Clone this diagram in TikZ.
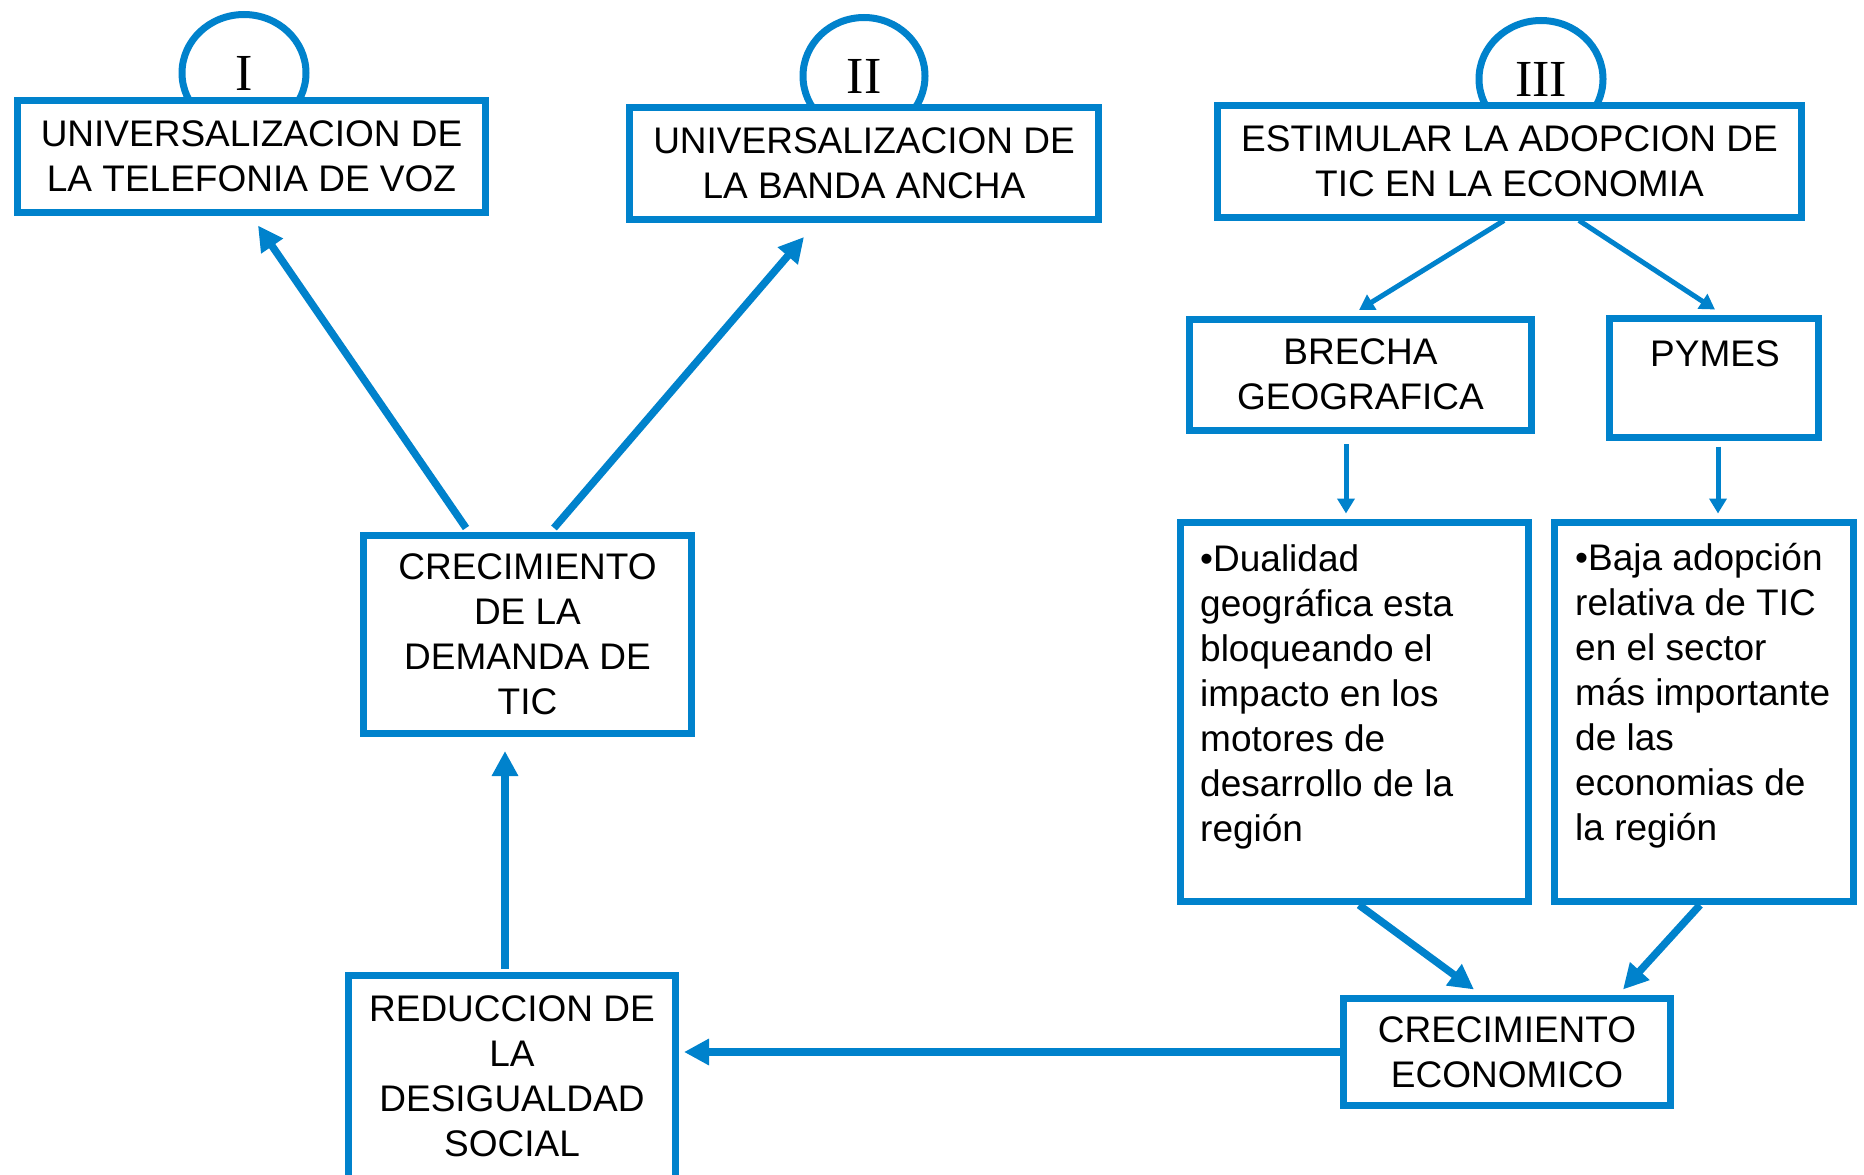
\documentclass[tikz,border=0pt]{standalone}
\usepackage{fontspec}
\setmainfont{Liberation Sans}
\newfontfamily\romanf{Liberation Serif}
\usetikzlibrary{arrows.meta,shapes.geometric,calc}
\definecolor{bl}{RGB}{0,130,204}
\begin{document}
\begin{tikzpicture}[x=1pt,y=-1pt,
  box/.style={draw=bl,line width=7pt,fill=white,inner sep=0pt,align=center,font=\fontsize{37}{45}\selectfont},
  circ/.style={ellipse,draw=bl,line width=7pt,inner sep=0pt,font=\romanf\fontsize{52}{60}\selectfont},
  bigarr/.style={draw=bl,line width=7.5pt,-{Triangle[length=25pt,width=25pt]}},
  smallarr/.style={draw=bl,line width=5pt,-{Triangle[length=15pt,width=17pt]}},
  txt/.style={inner sep=0pt,font=\fontsize{37}{45}\selectfont}]
\fill[white] (0,0) rectangle (1864,1175);
\useasboundingbox (0,0) rectangle (1864,1175);

% circles
\node[circ,minimum width=124pt,minimum height=117pt] (c1) at (244,73) {I};
\node[circ,minimum width=122pt,minimum height=117pt] (c2) at (864,76) {II};
\node[circ,minimum width=124pt,minimum height=117pt] (c3) at (1541,79) {III};

% boxes
\node[box,minimum width=468pt,minimum height=112pt] (b1) at (251.5,156.5) {UNIVERSALIZACION DE\\LA TELEFONIA DE VOZ};
\node[box,minimum width=469pt,minimum height=112pt] (b2) at (864,163) {UNIVERSALIZACION DE\\LA BANDA ANCHA};
\node[box,minimum width=584pt,minimum height=112pt] (b3) at (1509.5,161) {ESTIMULAR LA ADOPCION DE\\TIC EN LA ECONOMIA};
\node[box,minimum width=342pt,minimum height=111pt] (br) at (1360.5,374.5) {BRECHA\\GEOGRAFICA};
\node[box,minimum width=209pt,minimum height=119pt] (py) at (1714,378) {};
\node[box,minimum width=348pt,minimum height=379pt] (du) at (1354.5,712) {};
\node[box,minimum width=299pt,minimum height=379pt] (ba) at (1704,712) {};
\node[box,minimum width=327pt,minimum height=107pt] (ce) at (1507,1052) {CRECIMIENTO\\ECONOMICO};
\node[box,minimum width=327pt,minimum height=221pt] (rd) at (512,1086) {};
\node[box,minimum width=328pt,minimum height=198pt] (cd) at (527.5,634) {CRECIMIENTO\\DE LA\\DEMANDA DE\\TIC};

% texts placed at the top of boxes
\node[txt,anchor=north] (pyt) at ($(py.north)+(1,25)$) {PYMES};
\node[txt,anchor=north,align=center] (rdt) at ($(rd.north)+(0,23)$) {REDUCCION DE\\LA\\DESIGUALDAD\\SOCIAL};
\node[txt,anchor=north west,align=left] (dut) at ($(du.north west)+(23,25)$) {•Dualidad\\geográfica esta\\bloqueando el\\impacto en los\\motores de\\desarrollo de la\\región};
\node[txt,anchor=north west,align=left] (bat) at ($(ba.north west)+(24,24.5)$) {•Baja adopción\\relativa de TIC\\en el sector\\más importante\\de las\\economias de\\la región};

% connectors
\draw[bigarr] ($(cd.north)+(-61.5,-3.5)$) -- ($(b1.south)+(6.5,9.5)$);
\draw[bigarr] ($(cd.north)+(26.5,-3.5)$) -- ($(b2.south)+(-60,14.5)$);
\draw[bigarr] ($(rd.north)+(-7,-3.5)$) -- ($(cd.south)+(-22.5,14.5)$);
\draw[bigarr] (ce.west) -- ($(ce.west -| rd.east)+(5,0)$);
\draw[bigarr] ($(du.south)+(4.5,0)$) -- ($(ce.north)+(-33,-5.5)$);
\draw[bigarr] ($(ba.south)+(-4,0)$) -- ($(ce.north)+(116,-5.5)$);
\draw[smallarr] ($(b3.south)+(-5.5,0)$) -- ($(br.north)+(-1.5,-5.5)$);
\draw[smallarr] ($(b3.south)+(69.5,0)$) -- ($(py.north)+(1,-5.5)$);
\draw[smallarr] ($(br.south)+(-14.5,10.5)$) -- ($(du.north)+(-8.5,-5.5)$);
\draw[smallarr] ($(py.south)+(4,5.5)$) -- ($(ba.north)+(14,-5.5)$);
\end{tikzpicture}
\end{document}
